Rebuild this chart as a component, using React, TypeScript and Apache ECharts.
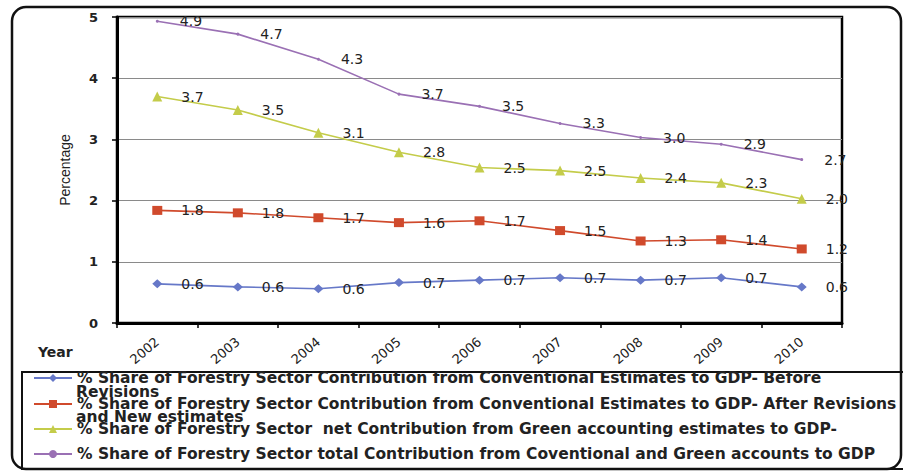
import React, { useEffect, useRef } from "react";
import * as echarts from "echarts";

// Years on the category axis
const years = ["2002", "2003", "2004", "2005", "2006", "2007", "2008", "2009", "2010"];

// Share of forestry sector in GDP (%)
const beforeRevisions = [0.64, 0.59, 0.56, 0.66, 0.7, 0.74, 0.7, 0.74, 0.59];
const afterRevisions = [1.84, 1.8, 1.72, 1.64, 1.67, 1.51, 1.34, 1.36, 1.21];
const greenNet = [3.7, 3.48, 3.11, 2.79, 2.54, 2.49, 2.37, 2.29, 2.03];
const totalGreen = [4.93, 4.72, 4.31, 3.74, 3.54, 3.26, 3.03, 2.92, 2.67];

const yTicks = [0, 1, 2, 3, 4, 5];

const seriesNames = [
  "% Share of Forestry Sector Contribution from Conventional Estimates to GDP- Before",
  "% Share of Forestry Sector Contribution from Conventional Estimates to GDP- After Revisions",
  "% Share of Forestry Sector  net Contribution from Green accounting estimates to GDP-",
  "% Share of Forestry Sector total Contribution from Coventional and Green accounts to GDP",
];
const wrappedLines = ["Revisions", "and New estimates"];

const colors = ["#6678c8", "#d04a2c", "#c4cc4a", "#9a70b4"];

const labelFont = "DejaVu Sans, sans-serif";

export default function App() {
  const ref = useRef<HTMLDivElement>(null);

  useEffect(() => {
    if (!ref.current) return;
    document.body.style.margin = "0";
    const chart = echarts.init(ref.current, undefined, { renderer: "svg" });

    const makeSeries = (
      name: string,
      data: number[],
      color: string,
      symbol: string,
      symbolSize: number | number[],
      distance: number
    ) => ({
      name,
      type: "line",
      data,
      symbol,
      symbolSize,
      showAllSymbol: true,
      lineStyle: { color, width: 1.6 },
      itemStyle: { color },
      label: {
        show: true,
        position: "right",
        distance,
        formatter: (p: any) => Number(p.value).toFixed(1),
        fontFamily: labelFont,
        fontSize: 14,
        color: "#222",
      },
    });

    const legendRows = [378, 404, 429, 454];

    chart.setOption({
      animation: false,
      backgroundColor: "#fff",
      grid: {
        left: 117,
        top: 17,
        right: 61,
        bottom: 148,
        show: true,
        borderColor: "#000",
        borderWidth: 2.5,
        backgroundColor: "transparent",
      },
      legend: seriesNames.map((n, i) => ({
        data: [n],
        orient: "vertical",
        left: 33,
        top: legendRows[i] - 8,
        padding: 0,
        itemWidth: 38,
        itemHeight: 10,
        itemGap: 0,
        selectedMode: false,
        textStyle: {
          fontFamily: labelFont,
          fontWeight: "bold",
          fontSize: 15.5,
          lineHeight: 16,
          color: "#222",
        },
      })),
      xAxis: {
        type: "category",
        data: years,
        boundaryGap: true,
        axisLine: { lineStyle: { color: "#000", width: 3 } },
        axisTick: { show: true, length: 5, inside: false, lineStyle: { color: "#000", width: 1.5 } },
        axisLabel: {
          rotate: 40,
          margin: 17,
          fontFamily: labelFont,
          fontSize: 13,
          color: "#222",
        },
        splitLine: { show: false },
      },
      yAxis: {
        type: "value",
        min: yTicks[0],
        max: yTicks[yTicks.length - 1],
        interval: 1,
        name: "Percentage",
        nameLocation: "middle",
        nameGap: 45,
        nameTextStyle: { fontFamily: "Liberation Sans, Arial, sans-serif", fontSize: 14, color: "#222" },
        axisLine: { show: true, lineStyle: { color: "#000", width: 3 } },
        axisTick: { show: true, length: 5, lineStyle: { color: "#000", width: 1.5 } },
        axisLabel: {
          margin: 19,
          fontFamily: labelFont,
          fontWeight: "bold",
          fontSize: 13,
          color: "#222",
        },
        splitLine: { show: true, lineStyle: { color: "#8a8a8a", width: 1 } },
      },
      series: [
        makeSeries(seriesNames[0], beforeRevisions, colors[0], "diamond", [10, 9], 19),
        makeSeries(seriesNames[1], afterRevisions, colors[1], "rect", [10, 9], 19),
        makeSeries(seriesNames[2], greenNet, colors[2], "triangle", 10, 19),
        makeSeries(seriesNames[3], totalGreen, colors[3], "circle", 3, 21),
      ],
      graphic: [
        {
          type: "rect",
          silent: true,
          shape: { x: 12, y: 7, width: 889, height: 462, r: 14 },
          style: { fill: "none", stroke: "#111", lineWidth: 2.5 },
        },
        {
          type: "rect",
          silent: true,
          shape: { x: 22, y: 372, width: 900, height: 97 },
          style: { fill: "none", stroke: "#111", lineWidth: 2 },
        },
        {
          type: "text",
          silent: true,
          x: 38,
          y: 352,
          style: {
            text: "Year",
            fontFamily: labelFont,
            fontWeight: "bold",
            fontSize: 14,
            fill: "#222",
            verticalAlign: "middle",
          },
        },
        ...wrappedLines.map((t, i) => ({
          type: "text",
          silent: true,
          x: 76,
          y: i === 0 ? 392 : 417,
          style: {
            text: t,
            fontFamily: labelFont,
            fontWeight: "bold",
            fontSize: 15.5,
            fill: "#222",
            verticalAlign: "middle",
          },
        })),
      ],
    });

    return () => chart.dispose();
  }, []);

  return <div ref={ref} style={{ width: 903, height: 471 }} />;
}
